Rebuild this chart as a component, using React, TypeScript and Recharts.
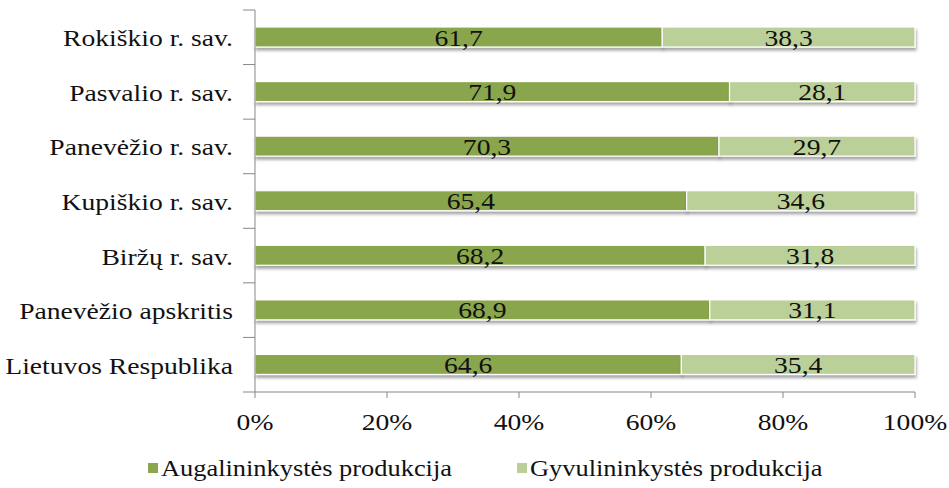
import { BarChart, Bar, XAxis, YAxis, Legend, LabelList } from "recharts";

const categories = [
  "Rokiškio r. sav.",
  "Pasvalio r. sav.",
  "Panevėžio r. sav.",
  "Kupiškio r. sav.",
  "Biržų r. sav.",
  "Panevėžio apskritis",
  "Lietuvos Respublika",
];
const augalininkyste = [61.7, 71.9, 70.3, 65.4, 68.2, 68.9, 64.6];
const gyvulininkyste = [38.3, 28.1, 29.7, 34.6, 31.8, 31.1, 35.4];
const xTicks = [0, 20, 40, 60, 80, 100];

const series = [
  { key: "aug", name: "Augalininkystės produkcija", color: "#8aa64e" },
  { key: "gyv", name: "Gyvulininkystės produkcija", color: "#bbd098" },
];

const data = categories.map((name, i) => ({
  name,
  aug: augalininkyste[i],
  gyv: gyvulininkyste[i],
}));

const FONT = '"Liberation Serif", "Times New Roman", serif';
const AXIS = "#878787";
const TEXT = "#111";
const FS = 24;
const SX = 1.15; // the source image is stretched horizontally
const W = 949;
const H = 488;
const MARGIN = { top: 10, right: 34, left: 0, bottom: 4 };
const X_AXIS_H = 56;
const LEGEND_H = 36;
const PLOT_H = H - MARGIN.top - MARGIN.bottom - X_AXIS_H - LEGEND_H;
const HALF_BAND = PLOT_H / categories.length / 2;
const LEGEND_X = [148, 517];

const fmt = (v: any) => Number(v).toFixed(1).replace(".", ",");

const SText = ({ x, y, anchor = "middle", sx = SX, children }: any) => (
  <text
    transform={`translate(${x},${y}) scale(${sx},1)`}
    textAnchor={anchor}
    fontSize={FS}
    fontFamily={FONT}
    fill={TEXT}
  >
    {children}
  </text>
);

const CategoryTick = (props: any) => {
  const { x, y, payload, index } = props;
  const last = index === categories.length - 1;
  return (
    <g>
      <line x1={x - 12} x2={x} y1={y - HALF_BAND} y2={y - HALF_BAND} stroke={AXIS} />
      {last && (
        <line x1={x - 12} x2={x} y1={y + HALF_BAND} y2={y + HALF_BAND} stroke={AXIS} />
      )}
      <SText x={x - 22} y={y + 9} anchor="end">
        {payload.value}
      </SText>
    </g>
  );
};

const PercentTick = (props: any) => {
  const { x, y, payload } = props;
  return (
    <SText x={x} y={y + 32}>
      {`${payload.value}%`}
    </SText>
  );
};

const BarValue = (props: any) => {
  const { x, y, width, height, value } = props;
  return (
    <SText x={x + width / 2} y={y + height / 2 + 8.5}>
      {fmt(value)}
    </SText>
  );
};

const ShadowBar = (props: any) => {
  const { x, y, width, height, fill } = props;
  return (
    <rect
      x={x}
      y={y}
      width={width}
      height={height}
      fill={fill}
      stroke="#fff"
      strokeWidth={1.2}
      filter="url(#barShadow)"
    />
  );
};

const LegendContent = () => (
  <svg width={W} height={LEGEND_H} style={{ display: "block" }}>
    {series.map((s, i) => (
      <g key={s.key}>
        <rect x={LEGEND_X[i]} y={15} width={10} height={10} fill={s.color} />
        <SText x={LEGEND_X[i] + 13} y={28} anchor="start" sx={1.1}>
          {s.name}
        </SText>
      </g>
    ))}
  </svg>
);

export default function App() {
  return (
    <div style={{ position: "absolute", left: 0, top: 0, width: W, height: H, background: "#fff" }}>
      <BarChart width={W} height={H} data={data} layout="vertical" margin={MARGIN} barSize={20}>
        <defs>
          <filter id="barShadow" x="-5%" y="-30%" width="110%" height="180%">
            <feDropShadow dx={1} dy={3} stdDeviation={1.6} floodColor="#000" floodOpacity={0.35} />
          </filter>
        </defs>
        <XAxis
          type="number"
          domain={[0, 100]}
          ticks={xTicks}
          height={X_AXIS_H}
          stroke={AXIS}
          tickSize={6}
          tickMargin={0}
          tick={<PercentTick />}
          interval={0}
        />
        <YAxis
          type="category"
          dataKey="name"
          width={255}
          stroke={AXIS}
          tickLine={false}
          tickSize={0}
          tickMargin={0}
          tick={<CategoryTick />}
          interval={0}
        />
        <Legend
          verticalAlign="bottom"
          height={LEGEND_H}
          content={<LegendContent />}
          wrapperStyle={{ left: 0, width: W }}
        />
        {series.map((s) => (
          <Bar
            key={s.key}
            dataKey={s.key}
            name={s.name}
            stackId="a"
            fill={s.color}
            shape={<ShadowBar />}
            isAnimationActive={false}
          >
            <LabelList dataKey={s.key} content={<BarValue />} />
          </Bar>
        ))}
      </BarChart>
    </div>
  );
}
